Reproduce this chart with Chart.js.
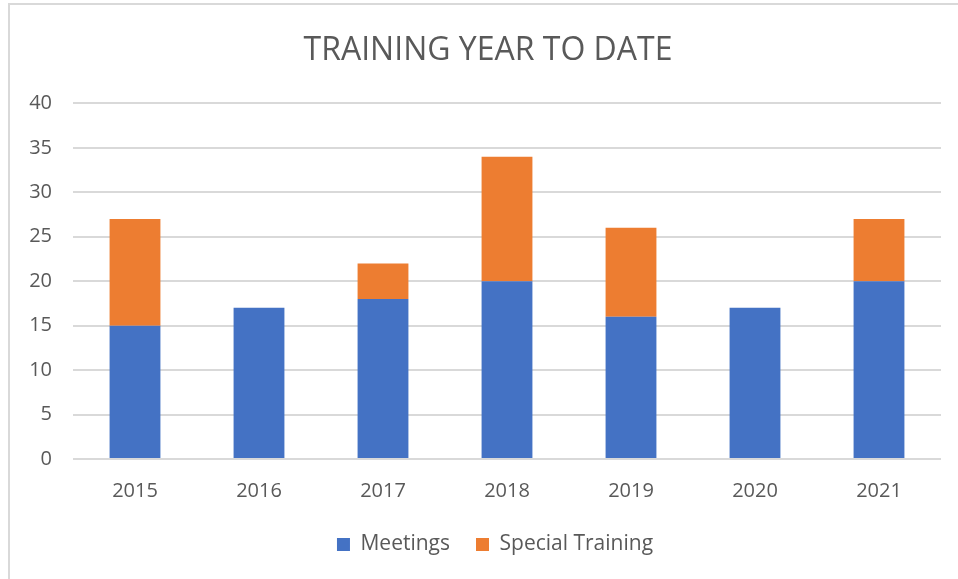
<!DOCTYPE html>
<html lang='en'>
<head>
    <meta charset='UTF-8'>
    <title>Training Year To Date</title>
    <style>
        body {
            margin: 0;
            background-color: #fff;
            overflow: hidden;
        }
        .frame {
            position: absolute;
            left: 8px;
            top: 3px;
            width: 980px;
            height: 600px;
            border: 2px solid #d9d9d9;
        }
        .chart-box {
            position: absolute;
            left: 0;
            top: 0;
            width: 958px;
            height: 579px;
        }
    </style>
</head>
<body>
    <div class='frame'></div>
    <div class='chart-box'>
        <canvas id='trainingChart'></canvas>
    </div>

    <script src='https://cdn.jsdelivr.net/npm/chart.js'></script>
    <script>
        const years = ['2015', '2016', '2017', '2018', '2019', '2020', '2021'];
        const meetings = [15, 17, 18, 20, 16, 17, 20];
        const specialTraining = [12, 0, 4, 14, 10, 0, 7];
        const yTicks = [0, 5, 10, 15, 20, 25, 30, 35, 40];

        const textColor = '#595959';
        const fontFamily = "'Open Sans', sans-serif";

        // title and legend sit a little right of centre in the original
        const nudgeBoxes = {
            id: 'nudgeBoxes',
            afterLayout(chart) {
                chart.titleBlock.left += 13;
                chart.titleBlock.right += 13;
                chart.legend.left += 20;
                chart.legend.right += 20;
                chart.legend.top -= 7;
                chart.legend.bottom -= 7;
            }
        };

        const ctx = document.getElementById('trainingChart').getContext('2d');
        new Chart(ctx, {
            type: 'bar',
            data: {
                labels: years,
                datasets: [{
                    label: 'Meetings',
                    data: meetings,
                    backgroundColor: '#4472C4'
                }, {
                    label: 'Special Training',
                    data: specialTraining,
                    backgroundColor: '#ED7D31'
                }]
            },
            plugins: [nudgeBoxes],
            options: {
                responsive: true,
                maintainAspectRatio: false,
                animation: false,
                layout: {
                    padding: { left: 9, right: 17, top: 0, bottom: 7 }
                },
                datasets: {
                    bar: { categoryPercentage: 1, barPercentage: 0.41 }
                },
                plugins: {
                    title: {
                        display: true,
                        text: 'TRAINING YEAR TO DATE',
                        color: textColor,
                        font: { family: fontFamily, size: 32, weight: 'normal' },
                        padding: { top: 32, bottom: 33 }
                    },
                    legend: {
                        position: 'bottom',
                        labels: {
                            color: textColor,
                            font: { family: fontFamily, size: 21 },
                            boxWidth: 13,
                            boxHeight: 13,
                            padding: 26
                        }
                    },
                    tooltip: { enabled: false }
                },
                scales: {
                    x: {
                        stacked: true,
                        grid: { display: false },
                        border: { display: false },
                        ticks: {
                            color: textColor,
                            font: { family: fontFamily, size: 20 },
                            padding: 12
                        }
                    },
                    y: {
                        stacked: true,
                        min: 0,
                        max: 40,
                        afterFit: (scale) => { scale.width = 64; },
                        afterBuildTicks: (scale) => {
                            scale.ticks = yTicks.map(v => ({ value: v }));
                        },
                        grid: {
                            color: '#d9d9d9',
                            lineWidth: 2,
                            drawTicks: false
                        },
                        border: { display: false },
                        ticks: {
                            color: textColor,
                            font: { family: fontFamily, size: 20 },
                            padding: 21
                        }
                    }
                }
            }
        });
    </script>
</body>
</html>
